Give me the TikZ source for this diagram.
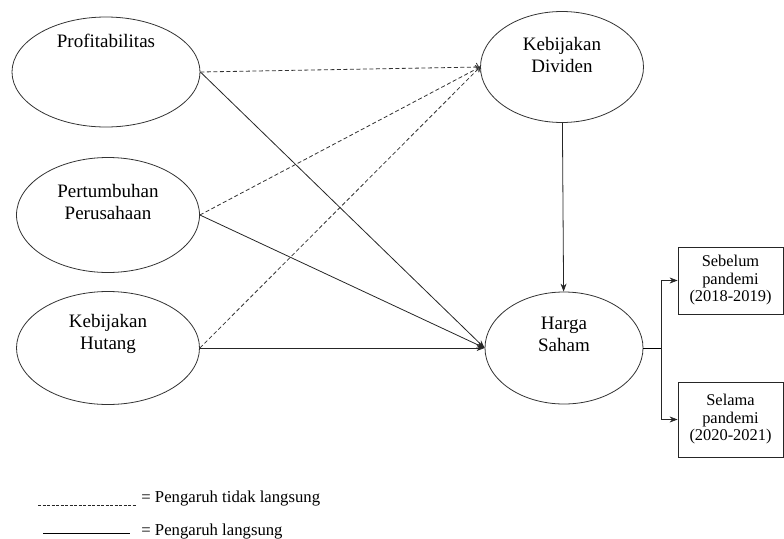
\documentclass[tikz,border=0pt]{standalone}
\usepackage{fontspec}
\setmainfont{Liberation Serif}
\usetikzlibrary{arrows.meta,shapes,calc,positioning}

\begin{document}
\begin{tikzpicture}[x=1pt, y=-1pt, line width=0.8pt]
	\tikzstyle{every node}=[font=\fontsize{19}{22}\selectfont]
	\tikzstyle{var}=[draw=black!80, ellipse, line width=0.8pt, inner sep=0pt]
	\tikzstyle{vtext}=[align=center, inner sep=0pt]
	\tikzstyle{periode}=[draw=black!85, rectangle, align=center, minimum width=105, inner sep=0pt, font=\fontsize{16.4}{17.5}\selectfont]
	\tikzstyle{legend}=[anchor=base west, inner sep=0pt, font=\fontsize{16.7}{18}\selectfont]
	\tikzstyle{direct}=[-{Stealth[length=8pt,width=6pt]}, black!85]
	\tikzstyle{indirect}=[dash pattern=on 4pt off 2.5pt, -{To[length=4pt]}, black!80]
	\useasboundingbox (0,0) rectangle (784,538);
	% variabel
	\node [var, minimum width=188, minimum height=110] (prof) at (106,72) {};
	\node [vtext] (prof-t) at ($(prof.center)+(0,-31)$) {Profitabilitas};
	\node [var, minimum width=183, minimum height=115] (grow) at (108,215) {};
	\node [vtext] (grow-t) at ($(grow.center)+(0,-13)$) {Pertumbuhan\\Perusahaan};
	\node [var, minimum width=183, minimum height=113] (debt) at (108,348) {};
	\node [vtext] (debt-t) at ($(debt.center)+(0,-14)$) {Kebijakan\\Hutang};
	\node [var, minimum width=163, minimum height=111] (div) at (562,67) {};
	\node [vtext] (div-t) at ($(div.center)+(0,-12)$) {Kebijakan\\Dividen};
	\node [var, minimum width=158, minimum height=112] (price) at (564,348) {};
	\node [vtext] (price-t) at ($(price.center)+(0,-14)$) {Harga\\Saham};
	% periode
	\node [periode, minimum height=67] (pre) at (730.5,280.5) {Sebelum\\pandemi\\(2018-2019)};
	\node [periode, minimum height=75] (during) at (730.5,419.5) {Selama\\pandemi\\(2020-2021)};
	% pengaruh
	\draw [indirect] (prof.east) -- (div.west);
	\draw [indirect] (grow.east) -- (div.west);
	\draw [indirect] (debt.east) -- (div.west);
	\draw [direct] (prof.east) -- (price.west);
	\draw [direct] (grow.east) -- (price.west);
	\draw [direct] (debt.east) -- (price.west);
	\draw [direct] (div) -- (price);
	\draw (price.east) -- ++(18,0) coordinate (fork);
	\draw [direct] (fork) |- (pre.west);
	\draw [direct] (fork) |- (during.west);
	% keterangan
	\coordinate (ind-a) at (38,505);
	\coordinate (ind-b) at (136,505);
	\coordinate (dir-a) at (43,533);
	\coordinate (dir-b) at (130,533);
	\draw [dash pattern=on 3pt off 1.5pt, line width=0.7pt, black!85] (ind-a) -- (ind-b);
	\draw [line width=0.8pt] (dir-a) -- (dir-b);
	\node [legend] (ind-t) at (141,502) {= Pengaruh tidak langsung};
	\node [legend] (dir-t) at (141,535) {= Pengaruh langsung};
\end{tikzpicture}
\end{document}
